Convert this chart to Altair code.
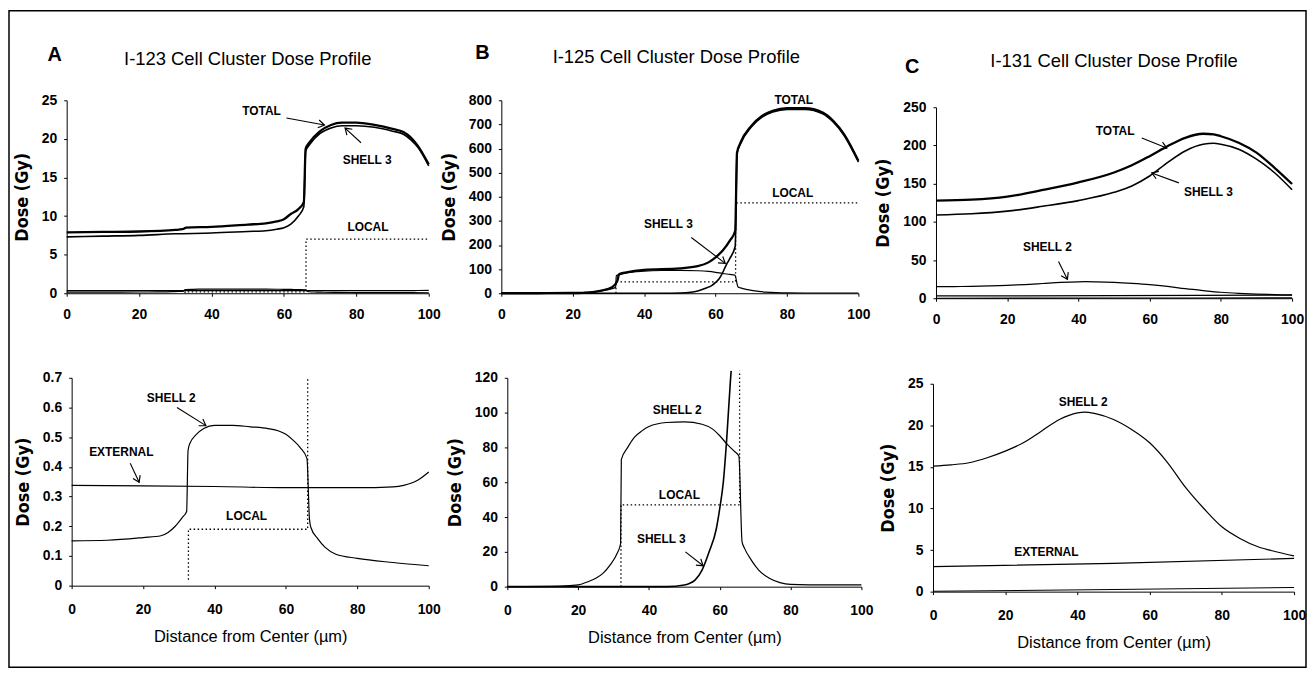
import math
import altair as alt
import pandas as pd

# ------------------------------------------------------------------
# Data (x = distance from centre in um, y = dose in Gy)
# ------------------------------------------------------------------
X_TICKS = [0, 20, 40, 60, 80, 100]

# ---- A : I-123 ----
A_TOTAL_X = [0, 10, 20, 30, 32, 33, 40, 50, 55, 58, 60, 62, 64, 65.5, 66, 67, 70, 73, 76, 80, 85, 90, 93, 95, 97, 100]
A_TOTAL_Y = [7.9, 7.95, 8.0, 8.2, 8.3, 8.5, 8.6, 8.9, 9.05, 9.3, 9.6, 10.3, 10.9, 11.8, 18.7, 19.5, 21.0, 21.8, 22.1, 22.1, 21.8, 21.3, 20.9, 20.2, 19.1, 16.7]
A_SHELL3_X = [0, 10, 20, 30, 40, 50, 55, 58, 60, 62, 64, 65.5, 66, 67, 70, 73, 76, 80, 85, 90, 93, 95, 97, 100]
A_SHELL3_Y = [7.3, 7.4, 7.5, 7.7, 7.8, 8.0, 8.1, 8.3, 8.5, 9.0, 10.0, 11.2, 18.4, 19.2, 20.7, 21.4, 21.7, 21.7, 21.5, 21.0, 20.6, 19.9, 18.9, 16.5]
A_SHELL2_X = [0, 10, 20, 25, 27, 29, 31, 32.2, 32.6, 33, 35, 37, 40, 45, 50, 55, 58, 60, 62, 64, 65.9, 66.6, 67, 69, 71, 74, 80, 90, 100]
A_SHELL2_Y = [0.151, 0.153, 0.162, 0.168, 0.179, 0.2, 0.23, 0.25, 0.455, 0.476, 0.51, 0.529, 0.54, 0.54, 0.535, 0.529, 0.521, 0.51, 0.49, 0.465, 0.428, 0.224, 0.196, 0.157, 0.129, 0.106, 0.092, 0.078, 0.067]
A_EXTERNAL_X = [0, 20, 40, 60, 80, 90, 93, 95, 97, 100]
A_EXTERNAL_Y = [0.338, 0.336, 0.334, 0.330, 0.330, 0.333, 0.338, 0.345, 0.356, 0.383]
A_LOCAL_X = [32.7, 32.7, 66.1, 66.1, 100]
A_LOCAL_Y = [0.02, 0.19, 0.19, 7.0, 7.0]

# ---- B : I-125 ----
B_TOTAL_X = [0, 10, 20, 25, 28, 31, 32.5, 33, 35, 40, 50, 55, 58, 60, 62, 64, 65.5, 66, 67, 70, 73, 76, 80, 85, 90, 93, 96, 100]
B_TOTAL_Y = [0, 0, 1, 4, 11, 25, 52, 80, 87, 97, 103, 112, 128, 149, 177, 218, 259, 583, 625, 694, 735, 756, 767, 767, 749, 714, 659, 549]
B_SHELL3_X = [0, 45, 50, 53, 55, 57, 59, 60, 61, 62, 63, 64, 65.5, 66, 67, 70, 73, 76, 80, 85, 90, 93, 96, 100]
B_SHELL3_Y = [0, 0, 1, 3.8, 9.5, 20, 33, 45, 60, 86, 118, 145, 195, 578, 620, 689, 730, 751, 762, 762, 744, 709, 654, 544]
B_SHELL2_X = [0, 15, 20, 23, 25, 27, 29, 31, 32, 32.2, 34, 36, 38, 40, 45, 50, 55, 58, 60, 62, 64, 65.4, 66.3, 67, 69, 71, 74, 77, 80, 90, 100]
B_SHELL2_Y = [0, 0.3, 1, 3, 4.8, 7.6, 12.4, 19, 24.8, 73, 80, 86, 89.5, 92, 94.3, 94.7, 93.3, 90.5, 86.7, 82, 78, 75, 25.7, 22, 15, 9.5, 4.8, 2.3, 1.3, 1, 1]
B_LOCAL_X = [32.1, 32.1, 65.6, 65.6, 100]
B_LOCAL_Y = [0, 47, 47, 375, 375]

# ---- C : I-131 ----
C_X = [0, 10, 20, 30, 40, 50, 55, 60, 65, 70, 75, 78, 80, 85, 90, 95, 100]
C_TOTAL_Y = [127.8, 129, 133, 141.7, 151.6, 164.6, 174, 186, 199, 210, 215.3, 214.5, 212, 203.6, 190.6, 171, 149.5]
C_SHELL3_Y = [109, 110.5, 114, 120.4, 127.8, 138.6, 147, 160, 177.6, 192.8, 201.5, 202.8, 201.5, 195, 182, 164.6, 142]
C_SHELL2_X = [0, 5, 10, 15, 20, 25, 30, 35, 40, 42, 45, 50, 55, 60, 65, 70, 75, 80, 85, 90, 95, 100]
C_SHELL2_Y = [15.1, 15.25, 15.5, 16.1, 16.9, 17.9, 19.3, 20.7, 21.5, 21.6, 21.4, 20.7, 19.5, 17.9, 15.5, 12.5, 10, 7.8, 6.4, 5.4, 4.8, 4.3]
C_EXTERNAL_X = [0, 50, 100]
C_EXTERNAL_Y = [3.0, 3.4, 4.0]
C_LOCAL_X = [0, 50, 100]
C_LOCAL_Y = [0.05, 0.25, 0.5]

# ---- annotations (data coordinates of each panel) ----
A_TOP_LABELS = ["TOTAL", "SHELL 3", "LOCAL"]
A_TOP_LABEL_X = [53.8, 83.0, 83.2]
A_TOP_LABEL_Y = [23.6, 17.3, 8.6]
A_TOP_ARROWS = [(60.7, 22.7, 71.2, 21.8), (81.3, 19.5, 76.9, 21.4)]

A_BOT_LABELS = ["SHELL 2", "EXTERNAL", "LOCAL"]
A_BOT_LABEL_X = [27.9, 13.9, 49.0]
A_BOT_LABEL_Y = [0.633, 0.449, 0.234]
A_BOT_ARROWS = [(29.5, 0.600, 37.6, 0.539), (16.4, 0.412, 18.9, 0.348)]

B_TOP_LABELS = ["TOTAL", "LOCAL", "SHELL 3"]
B_TOP_LABEL_X = [81.9, 81.6, 46.8]
B_TOP_LABEL_Y = [800, 417, 289]
B_TOP_ARROWS = [(53.2, 231, 62.7, 124)]

B_BOT_LABELS = ["SHELL 2", "LOCAL", "SHELL 3"]
B_BOT_LABEL_X = [48.0, 48.6, 43.5]
B_BOT_LABEL_Y = [101.7, 52.6, 27.4]
B_BOT_ARROWS = [(50.3, 20, 55.3, 12)]

C_TOP_LABELS = ["TOTAL", "SHELL 3", "SHELL 2"]
C_TOP_LABEL_X = [50.3, 76.5, 31.3]
C_TOP_LABEL_Y = [218.7, 139.3, 66.4]
C_TOP_ARROWS = [(57.8, 209.6, 64.8, 196.6), (68.2, 151, 60.6, 164), (34.4, 48.2, 36.9, 24.7)]

C_BOT_LABELS = ["SHELL 2", "EXTERNAL"]
C_BOT_LABEL_X = [41.6, 31.4]
C_BOT_LABEL_Y = [22.8, 4.8]

TITLES = ["I-123 Cell Cluster Dose Profile", "I-125 Cell Cluster Dose Profile", "I-131 Cell Cluster Dose Profile"]
LETTERS = ["A", "B", "C"]

# ------------------------------------------------------------------
# Layout / style
# ------------------------------------------------------------------
W, H = 1304, 660
BLACK = "black"
FONT = "Liberation Sans"
NARROW = "Liberation Sans Narrow, Arial Narrow, DejaVu Sans Condensed, sans-serif"

STYLE = {
    "TOTAL": dict(strokeWidth=2.3, interpolate="monotone"),
    "SHELL 3": dict(strokeWidth=1.6, interpolate="monotone"),
    "SHELL 2": dict(strokeWidth=1.2, interpolate="monotone"),
    "EXTERNAL": dict(strokeWidth=1.2, interpolate="monotone"),
    "LOCAL": dict(strokeWidth=1.3, strokeDash=[1.5, 2.5]),
    "LOCAL_C": dict(strokeWidth=1.1, interpolate="monotone"),
}


def clip_top(xs, ys, ymax):
    """Cut a polyline where it leaves the top of the plotting area."""
    ox, oy = [], []
    for i, (x, y) in enumerate(zip(xs, ys)):
        if y <= ymax:
            ox.append(x)
            oy.append(y)
        else:
            if i > 0:
                x0, y0 = xs[i - 1], ys[i - 1]
                t = (ymax - y0) / (y - y0)
                ox.append(x0 + t * (x - x0))
                oy.append(ymax)
            break
    return ox, oy


PANELS = [
    dict(xr=(58, 422), yr=(284, 90), ydom=(0, 25), yticks=[0, 5, 10, 15, 20, 25], xtitle=None,
         series=[("TOTAL", A_TOTAL_X, A_TOTAL_Y), ("SHELL 3", A_SHELL3_X, A_SHELL3_Y),
                 ("SHELL 2", A_SHELL2_X, A_SHELL2_Y), ("EXTERNAL", A_EXTERNAL_X, A_EXTERNAL_Y),
                 ("LOCAL", A_LOCAL_X, A_LOCAL_Y)],
         labels=(A_TOP_LABELS, A_TOP_LABEL_X, A_TOP_LABEL_Y), arrows=A_TOP_ARROWS,
         title=(TITLES[0], 50.0, 30.4), letter=(LETTERS[0], -3.3, 30.9)),
    dict(xr=(63, 422), yr=(578, 369), ydom=(0, 0.7), yticks=[0, 0.1, 0.2, 0.3, 0.4, 0.5, 0.6, 0.7],
         xtitle="Distance from Center (µm)", clip=0.7,
         series=[("SHELL 2", A_SHELL2_X, A_SHELL2_Y), ("EXTERNAL", A_EXTERNAL_X, A_EXTERNAL_Y),
                 ("LOCAL", A_LOCAL_X, A_LOCAL_Y)],
         labels=(A_BOT_LABELS, A_BOT_LABEL_X, A_BOT_LABEL_Y), arrows=A_BOT_ARROWS),
    dict(xr=(495, 854), yr=(284, 90), ydom=(0, 800), yticks=[0, 100, 200, 300, 400, 500, 600, 700, 800], xtitle=None,
         series=[("TOTAL", B_TOTAL_X, B_TOTAL_Y), ("SHELL 3", B_SHELL3_X, B_SHELL3_Y),
                 ("SHELL 2", B_SHELL2_X, B_SHELL2_Y), ("LOCAL", B_LOCAL_X, B_LOCAL_Y)],
         labels=(B_TOP_LABELS, B_TOP_LABEL_X, B_TOP_LABEL_Y), arrows=B_TOP_ARROWS,
         title=(TITLES[1], 49.0, 981), letter=(LETTERS[1], -5.3, 994)),
    dict(xr=(501, 857), yr=(579, 369), ydom=(0, 120), yticks=[0, 20, 40, 60, 80, 100, 120],
         xtitle="Distance from Center (µm)", clip=124,
         series=[("SHELL 2", B_SHELL2_X, B_SHELL2_Y), ("SHELL 3", B_SHELL3_X, B_SHELL3_Y),
                 ("LOCAL", B_LOCAL_X, B_LOCAL_Y)],
         labels=(B_BOT_LABELS, B_BOT_LABEL_X, B_BOT_LABEL_Y), arrows=B_BOT_ARROWS),
    dict(xr=(932, 1290), yr=(289, 97), ydom=(0, 250), yticks=[0, 50, 100, 150, 200, 250], xtitle=None,
         series=[("TOTAL", C_X, C_TOTAL_Y), ("SHELL 3", C_X, C_SHELL3_Y),
                 ("SHELL 2", C_SHELL2_X, C_SHELL2_Y), ("EXTERNAL", C_EXTERNAL_X, C_EXTERNAL_Y),
                 ("LOCAL_C", C_LOCAL_X, C_LOCAL_Y)],
         labels=(C_TOP_LABELS, C_TOP_LABEL_X, C_TOP_LABEL_Y), arrows=C_TOP_ARROWS,
         title=(TITLES[2], 50.0, 310), letter=(LETTERS[2], -6.7, 303)),
    dict(xr=(929, 1292), yr=(584, 375), ydom=(0, 25), yticks=[0, 5, 10, 15, 20, 25],
         xtitle="Distance from Center (µm)",
         series=[("SHELL 2", C_SHELL2_X, C_SHELL2_Y), ("EXTERNAL", C_EXTERNAL_X, C_EXTERNAL_Y),
                 ("LOCAL_C", C_LOCAL_X, C_LOCAL_Y)],
         labels=(C_BOT_LABELS, C_BOT_LABEL_X, C_BOT_LABEL_Y), arrows=[]),
]


def build_panel(p):
    """Return a flat list of layers for one panel (all scales explicit)."""
    xs = alt.Scale(domain=[0, 100], range=list(p["xr"]))
    ys = alt.Scale(domain=list(p["ydom"]), range=list(p["yr"]))
    bottom = p["xtitle"] is not None
    x_axis = alt.Axis(orient="bottom", offset=p["yr"][0] - H, values=X_TICKS, format="~r",
                      title=p["xtitle"] if bottom else "", labelPadding=14 if bottom else 11,
                      titlePadding=12)
    y_axis = alt.Axis(orient="left", offset=-p["xr"][0], values=p["yticks"], format="~r",
                      title="Dose (Gy)")

    def X(field, axis=None):
        return alt.X(field, scale=xs, axis=axis)

    def Y(field, axis=None):
        return alt.Y(field, scale=ys, axis=axis)

    layers = []
    first = True
    for name, sx, sy in p["series"]:
        if "clip" in p:
            sx, sy = clip_top(sx, sy, p["clip"])
        df = pd.DataFrame({"x": sx, "y": sy, "i": list(range(len(sx)))})
        layers.append(
            alt.Chart(df).mark_line(color=BLACK, strokeCap="butt", **STYLE[name]).encode(
                x=X("x:Q", x_axis if first else None),
                y=Y("y:Q", y_axis if first else None),
                order="i:Q",
            )
        )
        first = False

    names, lx, ly = p["labels"]
    ldf = pd.DataFrame({"x": lx, "y": ly, "label": names})
    layers.append(
        alt.Chart(ldf).mark_text(font=FONT, fontWeight="bold", fontSize=12, color=BLACK,
                                 align="center", baseline="middle").encode(
            x=X("x:Q"), y=Y("y:Q"), text="label:N")
    )

    if p["arrows"]:
        sxp = (p["xr"][1] - p["xr"][0]) / 100.0
        syp = (p["yr"][0] - p["yr"][1]) / (p["ydom"][1] - p["ydom"][0])
        rows = []
        for x1, y1, x2, y2 in p["arrows"]:
            ang = math.degrees(math.atan2(-(y2 - y1) * syp, (x2 - x1) * sxp)) % 360
            rows.append({"x": x1, "y": y1, "x2": x2, "y2": y2, "angle": ang})
        adf = pd.DataFrame(rows)
        layers.append(
            alt.Chart(adf).mark_rule(color=BLACK, strokeWidth=1.1).encode(
                x=X("x:Q"), y=Y("y:Q"), x2="x2:Q", y2="y2:Q")
        )
        layers.append(
            alt.Chart(adf).mark_point(shape="M -1 -0.65 L 0 0 L -1 0.65", filled=False, color=BLACK,
                                      strokeWidth=1.2, size=150, opacity=1).encode(
                x=X("x2:Q"), y=Y("y2:Q"), angle=alt.Angle("angle:Q", scale=None))
        )

    if "title" in p:
        t, tx, ty = p["title"]
        tdf = pd.DataFrame({"x": [tx], "y": [ty], "label": [t]})
        layers.append(
            alt.Chart(tdf).mark_text(font=FONT, fontSize=18.5, color=BLACK, align="center",
                                     baseline="middle").encode(
                x=X("x:Q"), y=Y("y:Q"), text="label:N")
        )
        l, lxx, lyy = p["letter"]
        ldf2 = pd.DataFrame({"x": [lxx], "y": [lyy], "label": [l]})
        layers.append(
            alt.Chart(ldf2).mark_text(font=FONT, fontSize=20, fontWeight="bold", color=BLACK,
                                      align="center", baseline="middle").encode(
                x=X("x:Q"), y=Y("y:Q"), text="label:N")
        )
    return layers


all_layers = []
for p in PANELS:
    all_layers.extend(build_panel(p))

chart = (
    alt.layer(*all_layers)
    .resolve_scale(x="independent", y="independent")
    .resolve_axis(x="independent", y="independent")
    .properties(width=W, height=H, autosize="none", padding=1, background="white")
    .configure_view(stroke=BLACK, strokeWidth=1.5)
    .configure_axis(
        grid=False, labelFlush=False, labelFont=FONT, labelFontWeight="bold", labelFontSize=14,
        labelColor=BLACK, domainColor=BLACK, domainWidth=1, tickColor=BLACK, tickSize=3,
        titleColor=BLACK,
    )
    .configure_axisY(labelPadding=7, titleFont=NARROW, titleFontWeight="bold", titleFontSize=18,
                     titlePadding=10)
    .configure_axisX(titleFont=FONT, titleFontWeight="normal", titleFontSize=16.5)
)

chart.save("out.html", embed_options={"renderer": "svg", "actions": False})
